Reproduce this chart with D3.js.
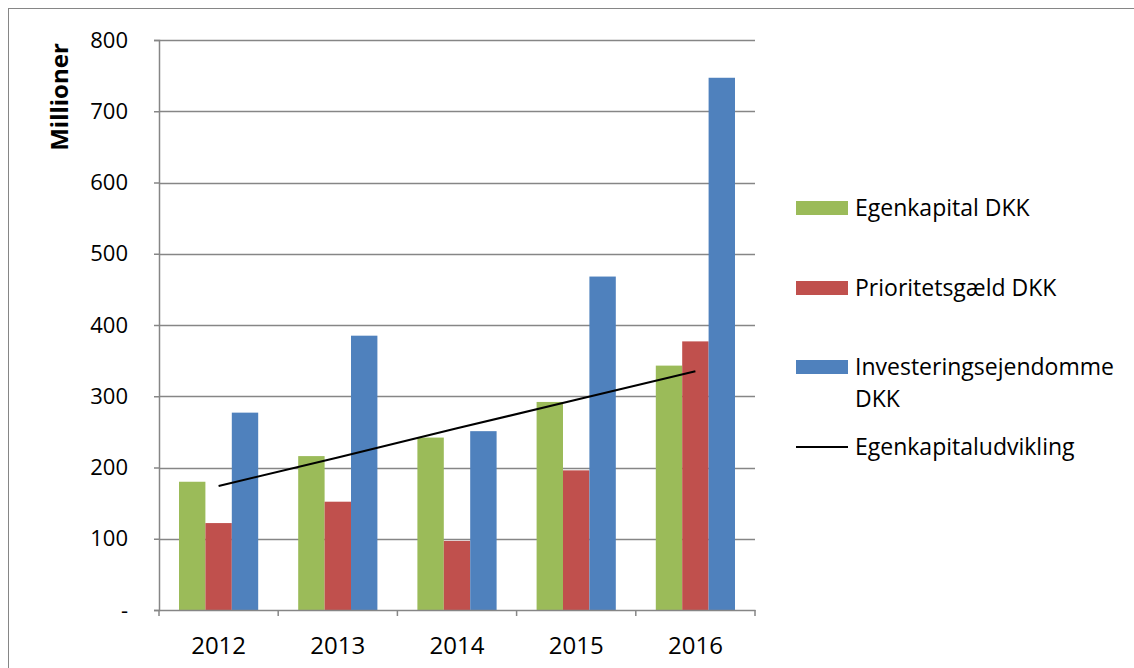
<!DOCTYPE html>
<html>
<head>
<meta charset="utf-8">
<title>Egenkapital</title>
<style>
  body { margin: 0; background: #fff; }
  svg text { font-family: "Open Sans", Calibri, sans-serif; fill: #000; }
</style>
</head>
<body>
<svg id="chart" width="1134" height="668"></svg>
<script src="https://d3js.org/d3.v7.min.js"></script>
<script>
// data (millioner DKK)
var years = ["2012", "2013", "2014", "2015", "2016"];
var egenkapital = [180, 216, 242, 292, 343];
var prioritetsgaeld = [122, 152, 97, 196, 377];
var investering = [277, 385, 251, 468, 747];
var udvikling = [174, 214, 255, 295, 335];   // trendlinje
var yTicks = [0, 100, 200, 300, 400, 500, 600, 700, 800];
var seriesNames = ["Egenkapital DKK", "Prioritetsgæld DKK", "Investeringsejendomme DKK"];
var lineName = "Egenkapitaludvikling";
var colors = ["#9BBB59", "#C0504D", "#4F81BD"];

var svg = d3.select("#chart");

// ramme om diagrammet
svg.append("rect")
    .attr("x", 8.5).attr("y", 8.5)
    .attr("width", 1140).attr("height", 700)
    .attr("fill", "none").attr("stroke", "#868686").attr("stroke-width", 1);

var x0 = d3.scaleBand().domain(years).range([159, 755]);
var x1 = d3.scaleBand().domain(d3.range(3)).range([20, x0.bandwidth() - 20]);
var y = d3.scaleLinear().domain([0, 800]).range([610, 40]);

// gitterlinjer
svg.append("g")
    .selectAll("line")
    .data(yTicks.slice(1))
    .enter()
    .append("line")
    .attr("x1", 159).attr("x2", 755)
    .attr("y1", function (d) { return Math.round(y(d)) + 0.5; })
    .attr("y2", function (d) { return Math.round(y(d)) + 0.5; })
    .attr("stroke", "#868686").attr("stroke-width", 1.5);

// søjler
var rows = years.map(function (yr, i) {
    return [egenkapital[i], prioritetsgaeld[i], investering[i]];
});
svg.append("g")
    .selectAll("g")
    .data(rows)
    .enter()
    .append("g")
    .attr("transform", function (d, i) { return "translate(" + x0(years[i]) + ",0)"; })
    .selectAll("rect")
    .data(function (d) { return d; })
    .enter()
    .append("rect")
    .attr("x", function (d, j) { return x1(j); })
    .attr("width", x1.bandwidth())
    .attr("y", function (d) { return y(d); })
    .attr("height", function (d) { return y(0) - y(d); })
    .attr("fill", function (d, j) { return colors[j]; });

// y-akse
var yAxis = d3.axisLeft(y)
    .tickValues(yTicks)
    .tickSize(5)
    .tickFormat(function (d) { return d === 0 ? "-" : d; });
var gy = svg.append("g").attr("transform", "translate(159,0)").call(yAxis);
gy.select(".domain").attr("stroke", "#868686").attr("stroke-width", 1.5);
gy.selectAll(".tick line").attr("stroke", "#868686").attr("stroke-width", 1.5);
gy.selectAll(".tick text")
    .attr("x", -31)
    .style("font-size", "22px")
    .style("font-family", "'Open Sans', sans-serif")
    .attr("fill", "#000");

// x-akse
var xAxis = d3.axisBottom(x0).tickSize(0).tickPadding(0);
var gx = svg.append("g").attr("transform", "translate(0,610)").call(xAxis);
gx.select(".domain").attr("stroke", "#868686").attr("stroke-width", 1.5);
gx.selectAll(".tick text")
    .attr("y", 27)
    .style("font-size", "24px")
    .style("font-family", "'Open Sans', sans-serif")
    .attr("fill", "#000");
// skillestreger mellem kategorierne
svg.append("g")
    .selectAll("line")
    .data(years.concat(["end"]))
    .enter()
    .append("line")
    .attr("x1", function (d, i) { return i < years.length ? x0(d) : x0.range()[1]; })
    .attr("x2", function (d, i) { return i < years.length ? x0(d) : x0.range()[1]; })
    .attr("y1", 610).attr("y2", 616)
    .attr("stroke", "#868686").attr("stroke-width", 1.5);

// trendlinje
var line = d3.line()
    .x(function (d, i) { return x0(years[i]) + x0.bandwidth() / 2; })
    .y(function (d) { return y(d); });
svg.append("path")
    .datum(udvikling)
    .attr("d", line)
    .attr("fill", "none")
    .attr("stroke", "#000")
    .attr("stroke-width", 2);

// aksetitel
svg.append("text")
    .attr("transform", "translate(68,97) rotate(-90)")
    .attr("text-anchor", "middle")
    .style("font-size", "24px")
    .style("font-weight", "bold")
    .text("Millioner");

// forklaring
var legend = svg.append("g");
var legendY = [208, 288, 367];
seriesNames.forEach(function (name, i) {
    legend.append("rect")
        .attr("x", 796).attr("y", legendY[i] - 7)
        .attr("width", 52).attr("height", 14)
        .attr("fill", colors[i]);
    var t = legend.append("text")
        .attr("x", 855).attr("y", legendY[i])
        .attr("dy", "0.35em")
        .style("font-size", "23px");
    if (name === "Investeringsejendomme DKK") {
        t.append("tspan").attr("x", 855).text("Investeringsejendomme");
        t.append("tspan").attr("x", 855).attr("dy", "32").text("DKK");
    } else {
        t.text(name);
    }
});
legend.append("line")
    .attr("x1", 796).attr("x2", 848)
    .attr("y1", 447).attr("y2", 447)
    .attr("stroke", "#000").attr("stroke-width", 2);
legend.append("text")
    .attr("x", 855).attr("y", 447)
    .attr("dy", "0.35em")
    .style("font-size", "23px")
    .text(lineName);
</script>
</body>
</html>
